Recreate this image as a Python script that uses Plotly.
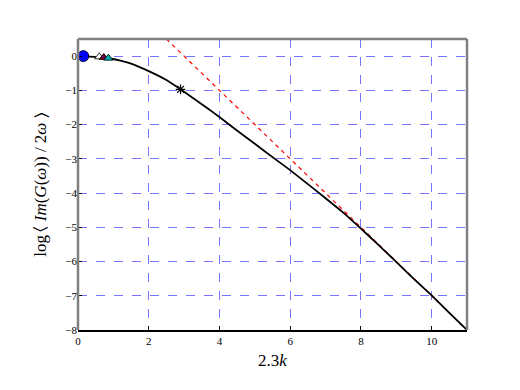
import plotly.graph_objects as go

# main curve
curve_x = [0.15, 0.6, 0.9, 1.2, 1.5, 2.0, 2.5, 2.9, 3.3, 3.7, 4.0, 4.58, 5.0,
           5.5, 6.0, 6.5, 7.0, 7.5, 7.94, 8.45, 8.94, 9.45, 10.0, 10.5, 11.0]
curve_y = [0.0, -0.03, -0.07, -0.13, -0.22, -0.44, -0.7, -0.97, -1.26, -1.55,
           -1.78, -2.24, -2.56, -2.95, -3.33, -3.74, -4.15, -4.57, -4.98, -5.47,
           -5.95, -6.46, -6.99, -7.5, -8.0]

# asymptote y = 3 - x
asym_x = [2.5, 11.0]
asym_y = [0.5, -8.0]

# short segment on the left edge
edge_x = [0.0, 0.0]
edge_y = [0.2, -1.66]

# markers
pts = [
    (0.15, 0.0, "circle", "blue", 11),
    (0.6, -0.02, "triangle-up", "white", 8),
    (0.73, -0.04, "triangle-up", "red", 8),
    (0.72, -0.02, "triangle-up", "purple", 5),
    (0.86, -0.06, "triangle-up", "#00b0b0", 8),
]
star_x = [2.9]
star_y = [-0.97]

fig = go.Figure()
fig.add_trace(go.Scatter(x=asym_x, y=asym_y, mode="lines",
                         line=dict(color="red", width=1.2, dash="4px,4px")))
fig.add_trace(go.Scatter(x=curve_x, y=curve_y, mode="lines",
                         line=dict(color="black", width=1.8, shape="spline", smoothing=0.3)))
fig.add_trace(go.Scatter(x=edge_x, y=edge_y, mode="lines",
                         line=dict(color="black", width=1.5)))
for x, y, sym, col, sz in pts:
    fig.add_trace(go.Scatter(x=[x], y=[y], mode="markers",
                             marker=dict(symbol=sym, color=col, size=sz,
                                         line=dict(color="black", width=0.8))))
fig.add_trace(go.Scatter(x=star_x, y=star_y, mode="markers",
                         marker=dict(symbol="asterisk", color="black", size=8,
                                     line=dict(color="black", width=1.2))))

grid = "rgba(70,70,255,0.75)"
# page body has an 8px margin, so the figure is 16px smaller than the window
fig.update_layout(
    width=504, height=374,
    margin=dict(l=70, r=45, t=31, b=52),
    paper_bgcolor="white", plot_bgcolor="white",
    showlegend=False,
    font=dict(family="Liberation Serif, DejaVu Serif, serif", color="black", size=11),
    xaxis=dict(range=[0, 11], tickvals=[0, 2, 4, 6, 8, 10], automargin=False,
               showgrid=True, gridcolor=grid, griddash="dash", gridwidth=1,
               zeroline=False, ticks="inside", ticklen=4, tickcolor="black",
               showline=True, linecolor="black", linewidth=1.5, mirror=False,
               title=dict(text="2.3<i>k</i>", font=dict(size=17), standoff=8)),
    yaxis=dict(range=[-8, 0.5], tickvals=list(range(-8, 1)), automargin=False,
               ticktext=["\u2212" + str(-v) if v < 0 else str(v) for v in range(-8, 1)],
               showgrid=True, gridcolor=grid, griddash="dash", gridwidth=1,
               zeroline=False, ticks="inside", ticklen=4, tickcolor="black",
               showline=False,
               title=dict(text="log\u2009\u2329 <i>Im</i>(<i>G</i>(<i>\u03c9</i>)) / 2<i>\u03c9</i> \u232a",
                          font=dict(size=17), standoff=14)),
    shapes=[
        dict(type="line", xref="paper", yref="paper", x0=0, x1=0, y0=0, y1=1,
             line=dict(color="gray", width=2.5)),
        dict(type="line", xref="paper", yref="paper", x0=1, x1=1, y0=0, y1=1,
             line=dict(color="gray", width=2.5)),
        dict(type="line", xref="paper", yref="paper", x0=0, x1=1, y0=1, y1=1,
             line=dict(color="gray", width=2.5)),
    ],
)

fig.write_html("out.html")
